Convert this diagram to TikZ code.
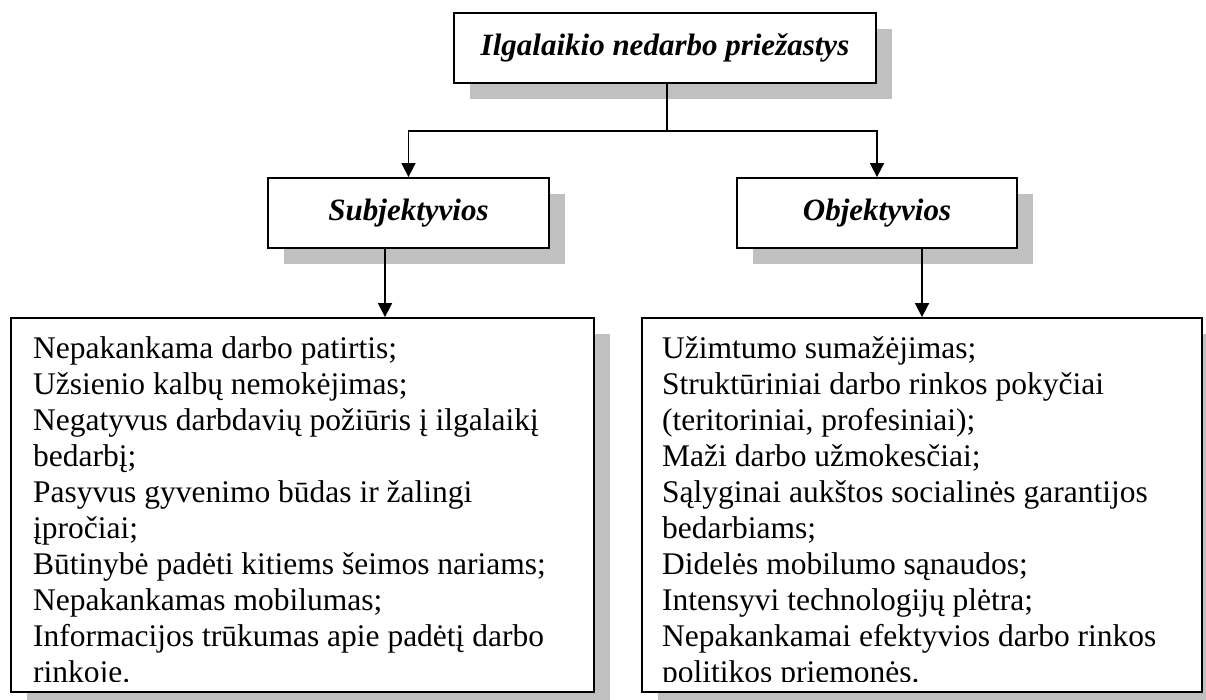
\documentclass[tikz,border=0pt]{standalone}
\usepackage{fontspec}
\setmainfont{Liberation Serif}
\usetikzlibrary{arrows.meta,shadows}
\definecolor{shgray}{HTML}{C0C0C0}
\tikzset{
  box/.style={draw=black, line width=1.8pt, fill=white, inner sep=0pt,
    drop shadow={shadow xshift=16pt, shadow yshift=-16pt, fill=shgray, opacity=1}},
  headtext/.style={font=\fontsize{31}{36}\selectfont\bfseries\itshape},
  itemtext/.style={font=\fontsize{31.5}{36}\selectfont, inner sep=0pt, anchor=base west},
  conn/.style={line width=1.6pt, draw=black},
  arr/.style={conn, -{Triangle[width=14pt,length=14pt]}}
}
\begin{document}
\begin{tikzpicture}[x=1pt,y=-1pt]
\useasboundingbox (0,0) rectangle (1206,700);
\clip (0,0) rectangle (1206,700);
% header boxes
\node[box, headtext, minimum width=422pt, minimum height=70pt] (top) at (665,48) {Ilgalaikio nedarbo priežastys};
\node[box, headtext, minimum width=281pt, minimum height=70pt] (subj) at (408.5,213) {Subjektyvios};
\node[box, headtext, minimum width=280pt, minimum height=70pt] (obj) at (877,213) {Objektyvios};
% detail boxes
\node[box, minimum width=583pt, minimum height=374pt] (left) at (302.5,505) {};
\node[box, minimum width=560pt, minimum height=374pt] (right) at (922,505) {};
% connectors
\coordinate (split) at (667,131);
\coordinate (sx) at (385,0);
\coordinate (ox) at (922,0);
\draw[conn] (top.south -| split) -- (split);
\draw[arr] (split) -| (subj.north);
\draw[arr] (split) -| (obj.north);
\draw[arr] (subj.south -| sx) -- (left.north -| sx);
\draw[arr] (obj.south -| ox) -- (right.north -| ox);
% left text
\begin{scope}
\clip (11,318) rectangle (594,681);
\foreach \t [count=\i from 0] in {
  Nepakankama darbo patirtis;,
  Užsienio kalbų nemokėjimas;,
  Negatyvus darbdavių požiūris į ilgalaikį,
  bedarbį;,
  Pasyvus gyvenimo būdas ir žalingi,
  įpročiai;,
  Būtinybė padėti kitiems šeimos nariams;,
  Nepakankamas mobilumas;,
  Informacijos trūkumas apie padėtį darbo,
  rinkoje.}
  \node[itemtext] (l\i) at (33,{358+36*\i}) {\t};
\end{scope}
% right text
\begin{scope}
\clip (642,318) rectangle (1202,681);
\foreach \t [count=\i from 0] in {
  Užimtumo sumažėjimas;,
  Struktūriniai darbo rinkos pokyčiai,
  {(teritoriniai, profesiniai);},
  Maži darbo užmokesčiai;,
  Sąlyginai aukštos socialinės garantijos,
  bedarbiams;,
  Didelės mobilumo sąnaudos;,
  Intensyvi technologijų plėtra;,
  Nepakankamai efektyvios darbo rinkos,
  politikos priemonės.}
  \node[itemtext] (r\i) at (662,{358+36*\i}) {\t};
\end{scope}
\end{tikzpicture}
\end{document}
